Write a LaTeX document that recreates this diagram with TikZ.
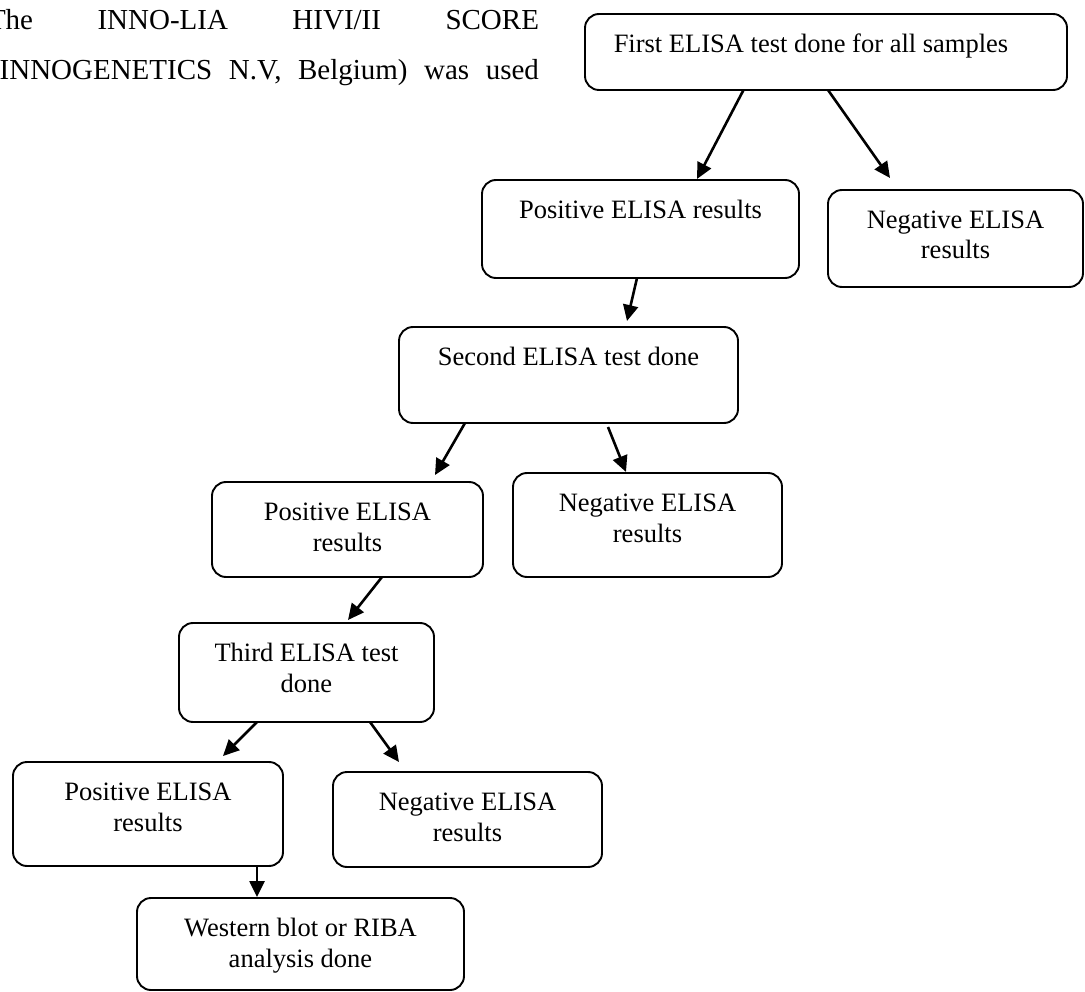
\documentclass[tikz,border=0pt]{standalone}
\usepackage{fontspec}
\setmainfont{Liberation Serif}
\usetikzlibrary{arrows.meta,calc}
\newcommand{\mybox}[3]{\parbox[c][#2pt][t]{#1pt}{\centering\rule{0pt}{38.5pt}#3}}
\tikzset{
  box/.style={draw, rounded corners=14pt, line width=1.9pt, inner sep=0pt, outer sep=0pt,
    anchor=north west, font=\fontsize{26.5}{30.5}\selectfont},
  arr/.style={line width=2.6pt, -{Triangle[length=16pt,width=15pt]}},
  body/.style={inner sep=0pt, outer sep=0pt, anchor=base west, font=\fontsize{29}{42}\selectfont}
}
\begin{document}
\begin{tikzpicture}[x=1pt,y=-1pt]
\useasboundingbox (0,0) rectangle (1085,992);
\clip (0,0) rectangle (1085,992);
\fill[white] (0,0) rectangle (1085,992);
% body text
\node[body] (l1) at (-12,30) {\hbox to 551pt{The\hfill INNO-LIA\hfill HIVI/II\hfill SCORE}};
\node[body] (l2) at (-10,80) {\hbox to 549pt{(INNOGENETICS\hfill N.V,\hfill Belgium)\hfill was\hfill used}};
% boxes
\node[box] (A) at (585,14) {\mybox{482}{76}{First ELISA test done for all samples\hspace*{30pt}}};
\node[box] (B) at (482,180) {\mybox{317}{98}{Positive ELISA results}};
\node[box] (C) at (828,190) {\mybox{255}{97}{Negative ELISA\\results}};
\node[box] (D) at (399,327) {\mybox{339}{96}{Second ELISA test done}};
\node[box] (E) at (212,482) {\mybox{271}{95}{Positive ELISA\\results}};
\node[box] (F) at (513,473) {\mybox{269}{104}{Negative ELISA\\results}};
\node[box] (G) at (179,623) {\mybox{255}{99}{Third ELISA test\\done}};
\node[box] (P) at (13,762) {\mybox{270}{104}{Positive ELISA\\results}};
\node[box] (N) at (333,772) {\mybox{269}{95}{Negative ELISA\\results}};
\node[box] (W) at (137,898) {\mybox{327}{92}{Western blot or RIBA\\analysis done}};
% arrows
\draw[arr] ($(A.south west)+(158.5,0)$) -- ($(B.north west)+(215,-1)$);
\draw[arr] ($(A.south west)+(243,0)$) -- ($(C.north west)+(62,-12)$);
\draw[arr] ($(B.south west)+(155,0)$) -- ($(D.north west)+(228,-6)$);
\draw[arr] ($(D.south west)+(66,0)$) -- ($(E.north west)+(223,-7)$);
\draw[arr] ($(D.south west)+(209,4)$) -- ($(F.north west)+(113,-1)$);
\draw[arr] ($(E.south west)+(170,0)$) -- ($(G.north west)+(169,-3)$);
\draw[arr] ($(G.south west)+(78,0)$) -- ($(P.north west)+(210,-6)$);
\draw[arr] ($(G.south west)+(191,0)$) -- ($(N.north west)+(66,-10)$);
\draw[arr] ($(P.south west)+(244,0)$) -- ($(W.north west)+(120,-1)$);
\end{tikzpicture}
\end{document}
